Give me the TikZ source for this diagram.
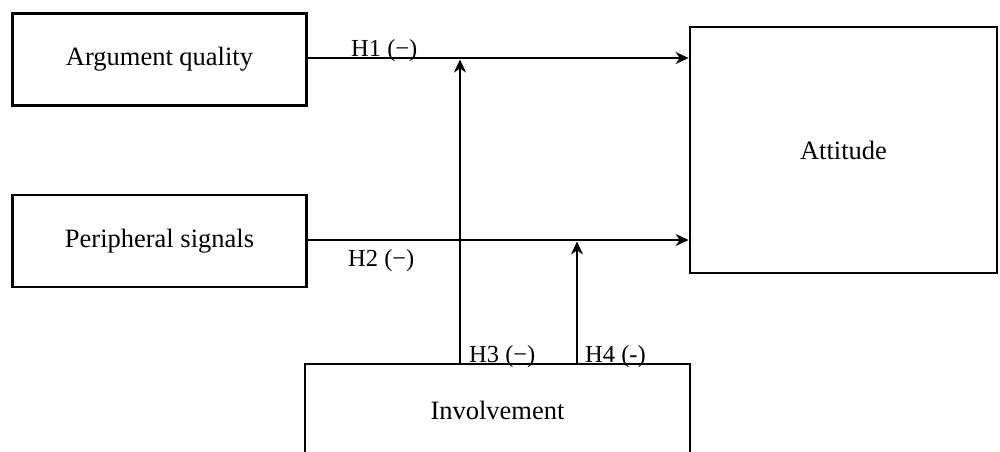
\documentclass[tikz,border=0pt]{standalone}
\usepackage{fontspec}
\setmainfont{Liberation Serif}
\usetikzlibrary{arrows.meta}
\begin{document}
\begin{tikzpicture}[x=1pt,y=-1pt,
  box/.style={draw,line width=2.8pt,minimum width=0pt,inner sep=0pt},
  conn/.style={line width=1.8pt,-{Stealth[length=13pt,width=12pt]}},
  lbl/.style={font=\fontsize{24.5}{28}\selectfont,inner sep=0pt},
  txt/.style={font=\fontsize{26.5}{30}\selectfont,inner sep=0pt}]
\useasboundingbox (0,0) rectangle (1000,451);
\node[box,minimum width=294pt,minimum height=92pt] (aq) at (159.5,59.5) {};
\node[txt] at (aq.center) {Argument quality};
\node[box,minimum width=294pt,minimum height=92pt] (ps) at (159.5,241) {};
\node[txt] at (ps.center) {Peripheral signals};
\node[box,minimum width=307pt,minimum height=246pt] (at) at (843.5,150) {};
\node[txt] at (at.center) {Attitude};
\node[box,minimum width=385pt,minimum height=140pt] (inv) at (497.5,434) {};
\node[txt] at (497.5,410) {Involvement};
\coordinate (m1) at (460,58);
\coordinate (m2) at (577,240);
\draw[conn] (aq.east |- m1) -- (at.west |- m1);
\draw[conn] (ps.east |- m2) -- (at.west |- m2);
\draw[conn] (inv.north -| m1) -- ([yshift=-1.5pt]m1);
\draw[conn] (inv.north -| m2) -- ([yshift=-1.5pt]m2);
\node[lbl,anchor=base west] (h1) at (351,56) {H1 (−)};
\node[lbl,anchor=base west] (h2) at (348,266) {H2 (−)};
\node[lbl,anchor=base west] (h3) at (469,362) {H3 (−)};
\node[lbl,anchor=base west] (h4) at (585,362) {H4 (-)};
\end{tikzpicture}
\end{document}
